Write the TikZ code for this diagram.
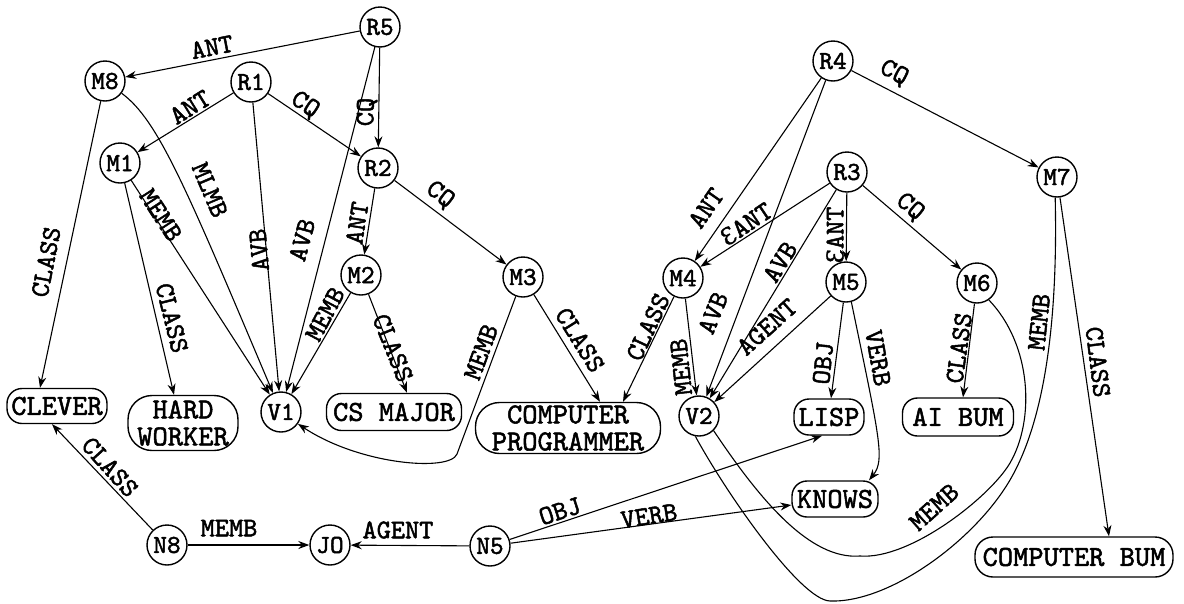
\documentclass[tikz,border=0pt]{standalone}
\usepackage{fontspec}
\setmonofont{lmmono10-regular.otf}[FakeBold=1.8]
\newfontfamily\epsfont{DejaVu Serif}[Scale=0.85,FakeBold=1.5]
\usetikzlibrary{arrows.meta}
\begin{document}
\begin{tikzpicture}[x=1pt,y=-1pt,
 cnode/.style={circle, draw, line width=1.4pt, minimum size=40pt, inner sep=0pt, font=\fontsize{26}{28}\selectfont\ttfamily},
 bnode/.style={draw, rounded corners=15pt, line width=1.4pt, inner sep=0pt, font=\fontsize{29}{27}\selectfont\ttfamily, align=center},
 arr/.style={line width=1.1pt, -{Stealth[length=11pt,width=8pt]}},
 ln/.style={line width=1.1pt},
 lbl/.style={font=\fontsize{27}{28}\selectfont\ttfamily, inner sep=1pt}]
\useasboundingbox (0,0) rectangle (1184,603);
% circle nodes
\node[cnode] (R5) at (380,27) {R5};
\node[cnode] (M8) at (105,81) {M8};
\node[cnode] (R1) at (251,82) {R1};
\node[cnode] (M1) at (120,163) {M1};
\node[cnode] (R2) at (378,168) {R2};
\node[cnode] (M2) at (361,275) {M2};
\node[cnode] (M3) at (523,277) {M3};
\node[cnode] (V1) at (281,412) {V1};
\node[cnode] (R4) at (833,61) {R4};
\node[cnode] (R3) at (847,172) {R3};
\node[cnode] (M7) at (1057,177) {M7};
\node[cnode] (M4) at (683,278) {M4};
\node[cnode] (M5) at (846,282) {M5};
\node[cnode] (M6) at (977,283) {M6};
\node[cnode] (V2) at (699,416) {V2};
\node[cnode] (N8) at (167,545) {N8};
\node[cnode] (JO) at (330,545) {JO};
\node[cnode] (N5) at (490,546) {N5};
% box nodes
\node[bnode, minimum width=100pt, minimum height=35pt] (CLEVER) at (57,406) {CLEVER};
\node[bnode, minimum width=110pt, minimum height=55pt, rounded corners=24pt] (HW) at (183,423) {HARD\\WORKER};
\node[bnode, minimum width=135pt, minimum height=37pt] (CS) at (394,412) {CS MAJOR};
\node[bnode, minimum width=185pt, minimum height=51pt, rounded corners=24pt] (CP) at (568,428) {COMPUTER\\PROGRAMMER};
\node[bnode, minimum width=70pt, minimum height=36pt] (LISP) at (829,417) {LISP};
\node[bnode, minimum width=111pt, minimum height=38pt] (AIBUM) at (958,417) {AI BUM};
\node[bnode, minimum width=86pt, minimum height=36pt] (KNOWS) at (835,499) {KNOWS};
\node[bnode, minimum width=198pt, minimum height=40pt, rounded corners=18pt] (CB) at (1074,557) {COMPUTER BUM};
% connectors
\draw[arr] (R5) -- (M8);
\draw[arr] (R5) -- (R2);
\draw[arr] (R5) -- (V1);
\draw[arr] (R1) -- (M1);
\draw[arr] (R1) -- (R2);
\draw[arr] (R1) -- (V1);
\draw[arr] (M8) .. controls (158,120) and (185,185) .. (V1);
\draw[arr] (M8) -- ([xshift=-17pt]CLEVER.north);
\draw[arr] (M1) -- (V1);
\draw[arr] (M1) -- ([xshift=-9pt]HW.north);
\draw[arr] (R2) -- (M2);
\draw[arr] (M2) -- (V1);
\draw[arr] (M2) -- ([xshift=13pt]CS.north);
\draw[arr] (R2) -- (M3);
\coordinate (c3) at (457,454);
\draw[arr] (M3) -- (c3) .. controls (450,472) and (360,465) .. (V1.-35);
\draw[arr] (M3) -- ([xshift=32pt]CP.north);
\draw[arr] (M4) -- ([xshift=55pt]CP.north);
\draw[arr] (M4) -- (V2);
\draw[arr] (R4) -- (M4);
\draw[arr] (R4) -- (V2);
\draw[arr] (R4) -- (M7);
\draw[arr] (R3) -- (M4);
\draw[arr] (R3) -- (V2);
\draw[arr] (R3) -- (M5);
\draw[arr] (R3) -- (M6);
\draw[arr] (M5) -- ([xshift=2pt]LISP.north);
\draw[arr] (M5) -- (V2);
\draw[arr] (M5.285) .. controls (880,440) and (885,460) .. ([xshift=34pt]KNOWS.north);
\draw[arr] (M6) -- ([xshift=5pt]AIBUM.north);
\draw[ln] (M6.-55) .. controls (1032,345) and (1035,420) .. (1010,463)
  .. controls (990,497) and (910,560) .. (860,556)
  .. controls (810,560) and (760,500) .. (V2.-45);
\draw[arr] (M7) -- ([xshift=35pt]CB.north);
\draw[ln] (M7.-95) .. controls (1058,320) and (1045,420) .. (1010,480)
  .. controls (975,540) and (890,603) .. (830,601)
  .. controls (800,600) and (725,491) .. (V2.-100);
\draw[arr] (N8) -- ([xshift=-5pt]CLEVER.south);
\draw[arr] (N8) -- (JO);
\draw[arr] (N5) -- (JO);
\draw[arr] (N5) -- ([xshift=-7pt]LISP.south);
\draw[arr] (N5) -- ([yshift=-6pt]KNOWS.west);
% labels
\node[lbl, rotate=11] (lA) at (212,47) {ANT};
\node[lbl, rotate=89] (lB) at (367,112) {CQ};
\node[lbl, rotate=32] (lC) at (190,107) {ANT};
\node[lbl, rotate=-34] (lD) at (305,105) {CQ};
\node[lbl, rotate=95] (lE) at (259,250) {AVB};
\node[lbl, rotate=75] (lF) at (302,240) {AVB};
\node[lbl, rotate=-67] (lG) at (210,190) {MLMB};
\node[lbl, rotate=79] (lH) at (46,262) {CLASS};
\node[lbl, rotate=-57] (lI) at (161,215) {MEMB};
\node[lbl, rotate=-76] (lJ) at (172,318) {CLASS};
\node[lbl, rotate=62] (lK) at (325,314) {MEMB};
\node[lbl, rotate=81] (lL) at (357,223) {ANT};
\node[lbl, rotate=-68] (lM) at (393,348) {CLASS};
\node[lbl, rotate=-38] (lN) at (440,195) {CQ};
\node[lbl, rotate=70] (lO) at (481,352) {MEMB};
\node[lbl, rotate=-58] (lP) at (580,340) {CLASS};
\node[lbl, rotate=65] (lQ) at (648,327) {CLASS};
\node[lbl, rotate=96] (lR) at (681,367) {MEMB};
\node[lbl, rotate=55] (lS) at (706,208) {ANT};
\node[lbl, rotate=34] (lT) at (746,224) {{\epsfont Ɛ}ANT};
\node[lbl, rotate=68] (lU) at (713,313) {AVB};
\node[lbl, rotate=58] (lV) at (780,262) {AVB};
\node[lbl, rotate=90] (lW) at (835,235) {{\epsfont Ɛ}ANT};
\node[lbl, rotate=-40] (lX) at (910,207) {CQ};
\node[lbl, rotate=-28] (lY) at (894,73) {CQ};
\node[lbl, rotate=42] (lZ) at (767,327) {AGENT};
\node[lbl, rotate=84] (la) at (823,363) {OBJ};
\node[lbl, rotate=-80] (lb) at (878,358) {VERB};
\node[lbl, rotate=82] (lc) at (959,348) {CLASS};
\node[lbl, rotate=84] (ld) at (1039,322) {MEMB};
\node[lbl, rotate=-83] (le) at (1098,362) {CLASS};
\node[lbl, rotate=42] (lf) at (934,507) {MEMB};
\node[lbl, rotate=-48] (lg) at (110,467) {CLASS};
\node[lbl] (lh) at (229,528) {MEMB};
\node[lbl] (li) at (398,530) {AGENT};
\node[lbl, rotate=18] (lj) at (560,511) {OBJ};
\node[lbl, rotate=9] (lk) at (649,516) {VERB};
\end{tikzpicture}
\end{document}
